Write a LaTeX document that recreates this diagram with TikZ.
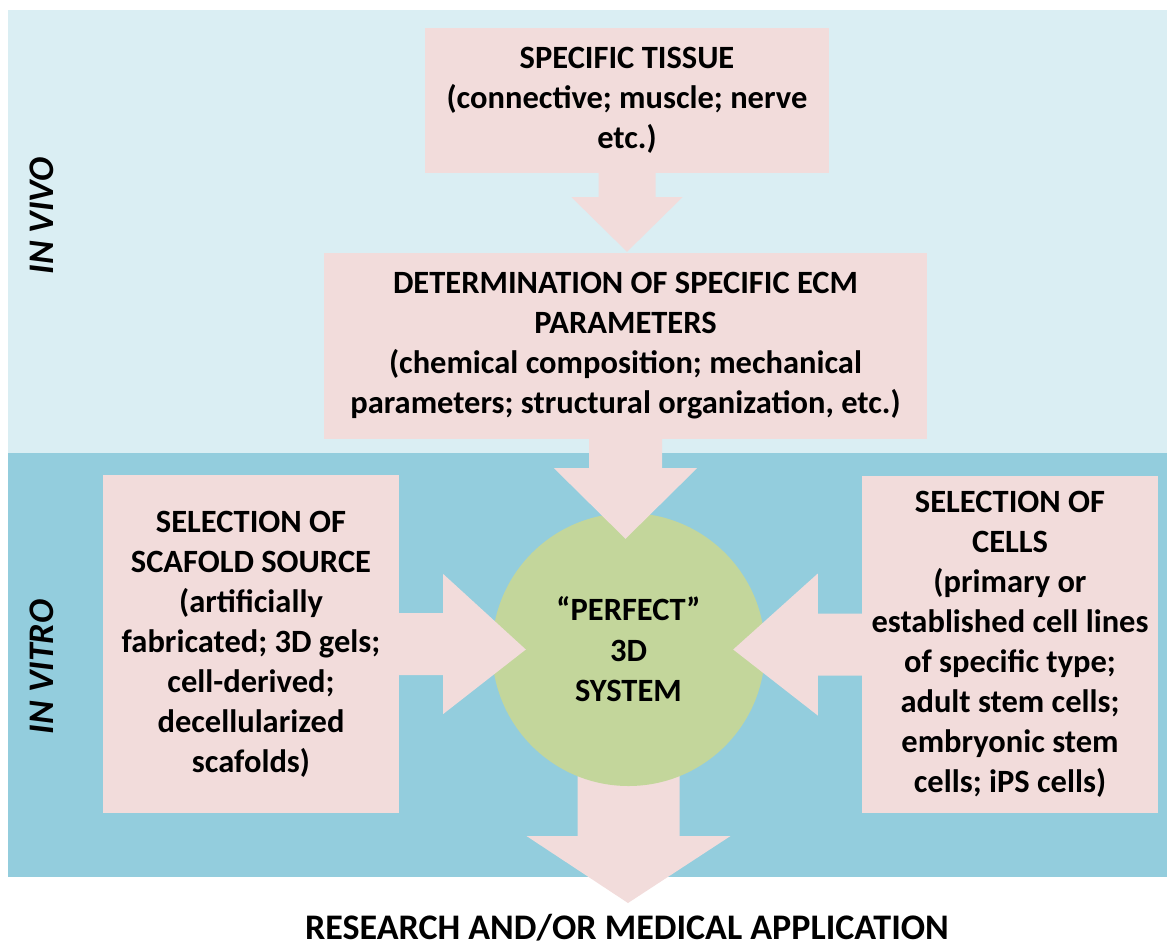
\documentclass[tikz,border=0pt]{standalone}
\usepackage{fontspec}
\setmainfont{Carlito}
\usetikzlibrary{calc}
\definecolor{bandlight}{HTML}{DAEEF3}
\definecolor{banddark}{HTML}{93CDDD}
\definecolor{boxpink}{HTML}{F2DCDB}
\definecolor{circgreen}{HTML}{C3D69B}
\begin{document}
\begin{tikzpicture}[x=1pt,y=-1pt,
  pinkbox/.style={fill=boxpink, draw=none, align=center, inner sep=0pt,
    font=\fontsize{32.5}{40}\selectfont\bfseries},
  blockarrow/.style={fill=boxpink, draw=none},
  sidelabel/.style={rotate=90, inner sep=0pt, font=\fontsize{36}{40}\selectfont\bfseries\itshape},
  bottomlabel/.style={inner sep=0pt, font=\fontsize{36}{40}\selectfont\bfseries},
  syscircle/.style={circle, fill=circgreen, draw=none, inner sep=0pt, align=center,
    font=\fontsize{32.5}{40.5}\selectfont\bfseries}
]
\useasboundingbox (0,0) rectangle (1167,946);
% bands
\fill[bandlight] (8,10) rectangle (1167,453);
\fill[banddark] (8,453) rectangle (1167,877);
% side labels
\node[sidelabel, anchor=base] (invivo) at (53,216) {IN VIVO};
\node[sidelabel, anchor=base] (invitro) at (53,667) {IN VITRO};
% bottom label
\node[bottomlabel, anchor=base] (app) at (627,939) {RESEARCH AND/OR MEDICAL APPLICATION};
% boxes
\node[pinkbox, minimum width=404pt, minimum height=145pt] (tissue) at (627,100.5)
  {SPECIFIC TISSUE\\(connective; muscle; nerve\\etc.)};
\node[pinkbox, minimum width=603pt, minimum height=186pt] (ecm) at (625.5,346)
  {DETERMINATION OF SPECIFIC ECM\\PARAMETERS\\(chemical composition; mechanical\\parameters; structural organization, etc.)};
\node[pinkbox, minimum width=296pt, minimum height=338pt] (scafold) at (251,644)
  {SELECTION OF\\SCAFOLD SOURCE\\(artificially\\fabricated; 3D gels;\\cell-derived;\\decellularized\\scafolds)};
\node[pinkbox, minimum width=296pt, minimum height=337pt] (cells) at (1010,644.5)
  {SELECTION OF\\CELLS\\(primary or\\established cell lines\\of specific type;\\adult stem cells;\\embryonic stem\\cells; iPS cells)};
% bottom arrow (under the circle)
\coordinate (apptip) at (628,903);
\coordinate (syscenter) at (628.5,649.5);
\fill[blockarrow] ($(syscenter)+(-51,0)$) -- ($(syscenter)+(51,0)$) -- ($(syscenter)+(51,186.5)$)
  -- ($(syscenter)+(102,186.5)$) -- (apptip) -- ($(syscenter)+(-102,186.5)$)
  -- ($(syscenter)+(-51,186.5)$) -- cycle;
% circle
\node[syscircle, minimum size=273pt] (sys) at (syscenter) {“PERFECT”\\3D\\SYSTEM};
% arrows
\fill[blockarrow] ($(tissue.south)+(-28.5,-1)$) -- ($(tissue.south)+(28.5,-1)$) -- ($(tissue.south)+(28.5,24)$)
  -- ($(tissue.south)+(55.5,24)$) -- ($(tissue.south |- ecm.north)+(0,-1)$) -- ($(tissue.south)+(-55.5,24)$)
  -- ($(tissue.south)+(-28.5,24)$) -- cycle;
\fill[blockarrow] ($(ecm.south)+(-36.5,-1)$) -- ($(ecm.south)+(36.5,-1)$) -- ($(ecm.south)+(36.5,29)$)
  -- ($(ecm.south)+(71.5,29)$) -- ($(ecm.south |- sys.north)+(0,26)$) -- ($(ecm.south)+(-71.5,29)$)
  -- ($(ecm.south)+(-36.5,29)$) -- cycle;
\fill[blockarrow] ($(scafold.east)+(-1,-31)$) -- ($(scafold.east)+(44,-31)$) -- ($(scafold.east)+(44,-70)$)
  -- ($(sys.west)+(34,0)$) -- ($(scafold.east)+(44,70)$) -- ($(scafold.east)+(44,31)$)
  -- ($(scafold.east)+(-1,31)$) -- cycle;
\fill[blockarrow] ($(cells.west)+(1,-31)$) -- ($(cells.west)+(-44,-31)$) -- ($(cells.west)+(-44,-71)$)
  -- ($(sys.east)+(-32,0)$) -- ($(cells.west)+(-44,71)$) -- ($(cells.west)+(-44,31)$)
  -- ($(cells.west)+(1,31)$) -- cycle;
\end{tikzpicture}
\end{document}
